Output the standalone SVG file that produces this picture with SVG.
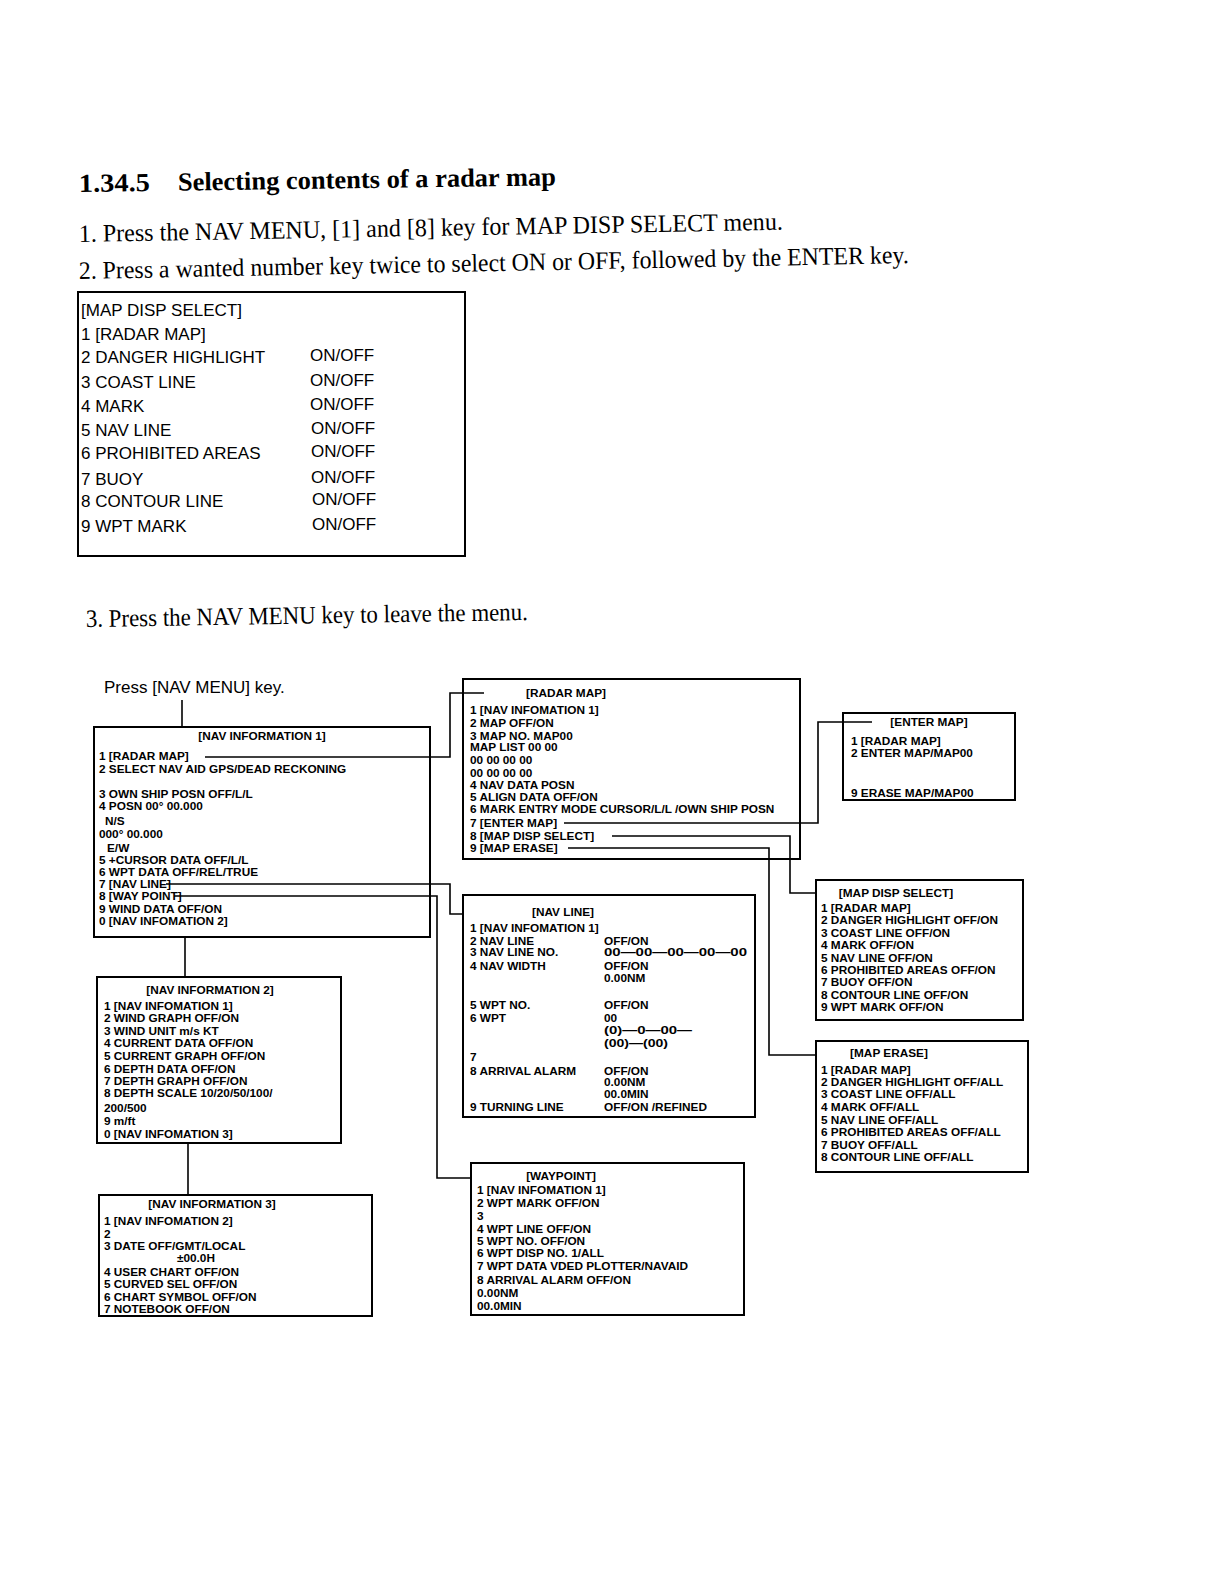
<svg xmlns="http://www.w3.org/2000/svg" width="1224" height="1584" viewBox="0 0 1224 1584">
<style>
.bx{fill:none;stroke:#000;stroke-width:2}
.cn{fill:none;stroke:#000;stroke-width:1.6}
.sr{font-family:"Liberation Serif","Times New Roman",serif;font-size:25px;fill:#000}
.ti{font-family:"Liberation Serif","Times New Roman",serif;font-size:26px;font-weight:bold;fill:#000}
.m{font-family:"Liberation Sans",Arial,sans-serif;font-size:17px;fill:#000}
.t{font-family:"Liberation Sans",Arial,sans-serif;font-size:11.8px;font-weight:bold;fill:#000}
.h{font-family:"Liberation Sans",Arial,sans-serif;font-size:11.8px;font-weight:bold;fill:#000;text-anchor:middle}
</style>
<rect width="1224" height="1584" fill="#fff"/>

<g id="instructions">
<g transform="rotate(-0.8 79 192)">
<text class="ti" x="79" y="192" textLength="71" lengthAdjust="spacingAndGlyphs">1.34.5</text>
<text class="ti" x="178" y="192" textLength="378" lengthAdjust="spacingAndGlyphs">Selecting contents of a radar map</text>
</g>
<text class="sr" x="79" y="242" transform="rotate(-1 79 242)" textLength="704" lengthAdjust="spacingAndGlyphs">1. Press the NAV MENU, [1] and [8] key for MAP DISP SELECT menu.</text>
<text class="sr" x="79" y="279" transform="rotate(-1.1 79 279)" textLength="830" lengthAdjust="spacingAndGlyphs">2. Press a wanted number key twice to select ON or OFF, followed by the ENTER key.</text>
<text class="sr" x="86" y="627" transform="rotate(-0.9 86 627)" textLength="442" lengthAdjust="spacingAndGlyphs">3. Press the NAV MENU key to leave the menu.</text>
</g>

<g id="map-disp-select-main">
<rect class="bx" x="78" y="292" width="387" height="264"/>
<text class="m" x="81" y="316">[MAP DISP SELECT]</text>
<text class="m" x="81" y="340">1 [RADAR MAP]</text>
<text class="m" x="81" y="363">2 DANGER HIGHLIGHT</text>
<text class="m" x="81" y="388">3 COAST LINE</text>
<text class="m" x="81" y="412">4 MARK</text>
<text class="m" x="81" y="436">5 NAV LINE</text>
<text class="m" x="81" y="459">6 PROHIBITED AREAS</text>
<text class="m" x="81" y="485">7 BUOY</text>
<text class="m" x="81" y="507">8 CONTOUR LINE</text>
<text class="m" x="81" y="532">9 WPT MARK</text>
<text class="m" x="310" y="361">ON/OFF</text>
<text class="m" x="310" y="386">ON/OFF</text>
<text class="m" x="310" y="410">ON/OFF</text>
<text class="m" x="311" y="434">ON/OFF</text>
<text class="m" x="311" y="457">ON/OFF</text>
<text class="m" x="311" y="483">ON/OFF</text>
<text class="m" x="312" y="505">ON/OFF</text>
<text class="m" x="312" y="530">ON/OFF</text>
</g>

<g id="press-label">
<text class="m" x="104" y="693">Press [NAV MENU] key.</text>
</g>

<g id="connectors">
<path class="cn" d="M182 700 V727"/>
<path class="cn" d="M205 757 H450 V693 H484"/>
<path class="cn" d="M166 884 H450 V914 H463"/>
<path class="cn" d="M174 896 H437 V1178 H471"/>
<path class="cn" d="M185 937 V977"/>
<path class="cn" d="M188 1143 V1195"/>
<path class="cn" d="M564 823 H818 V722 H872"/>
<path class="cn" d="M612 836 H790 V893 H816"/>
<path class="cn" d="M568 848 H769 V1055 H816"/>
</g>

<g id="nav-info-1">
<rect class="bx" x="94" y="727" width="336" height="210"/>
<text class="h" x="262" y="740">[NAV INFORMATION 1]</text>
<text class="t" x="99" y="760">1 [RADAR MAP]</text>
<text class="t" x="99" y="773">2 SELECT NAV AID GPS/DEAD RECKONING</text>
<text class="t" x="99" y="798">3 OWN SHIP POSN OFF/L/L</text>
<text class="t" x="99" y="810">4 POSN 00° 00.000</text>
<text class="t" x="105" y="825">N/S</text>
<text class="t" x="99" y="838">000° 00.000</text>
<text class="t" x="107" y="852">E/W</text>
<text class="t" x="99" y="864">5 +CURSOR DATA OFF/L/L</text>
<text class="t" x="99" y="876">6 WPT DATA OFF/REL/TRUE</text>
<text class="t" x="99" y="888">7 [NAV LINE]</text>
<text class="t" x="99" y="900">8 [WAY POINT]</text>
<text class="t" x="99" y="913">9 WIND DATA OFF/ON</text>
<text class="t" x="99" y="925">0 [NAV INFOMATION 2]</text>
</g>

<g id="radar-map">
<rect class="bx" x="463" y="679" width="337" height="180"/>
<text class="h" x="566" y="697">[RADAR MAP]</text>
<text class="t" x="470" y="714">1 [NAV INFOMATION 1]</text>
<text class="t" x="470" y="727">2 MAP OFF/ON</text>
<text class="t" x="470" y="740">3 MAP NO. MAP00</text>
<text class="t" x="470" y="751">MAP LIST 00 00</text>
<text class="t" x="470" y="764">00 00 00 00</text>
<text class="t" x="470" y="777">00 00 00 00</text>
<text class="t" x="470" y="789">4 NAV DATA POSN</text>
<text class="t" x="470" y="801">5 ALIGN DATA OFF/ON</text>
<text class="t" x="470" y="813">6 MARK ENTRY MODE CURSOR/L/L /OWN SHIP POSN</text>
<text class="t" x="470" y="827">7 [ENTER MAP]</text>
<text class="t" x="470" y="840">8 [MAP DISP SELECT]</text>
<text class="t" x="470" y="852">9 [MAP ERASE]</text>
</g>

<g id="enter-map">
<rect class="bx" x="843" y="713" width="172" height="87"/>
<text class="h" x="929" y="726">[ENTER MAP]</text>
<text class="t" x="851" y="745">1 [RADAR MAP]</text>
<text class="t" x="851" y="757">2 ENTER MAP/MAP00</text>
<text class="t" x="851" y="797">9 ERASE MAP/MAP00</text>
</g>

<g id="nav-line">
<rect class="bx" x="463" y="895" width="292" height="222"/>
<text class="h" x="563" y="916">[NAV LINE]</text>
<text class="t" x="470" y="932">1 [NAV INFOMATION 1]</text>
<text class="t" x="470" y="945">2 NAV LINE</text>
<text class="t" x="470" y="956">3 NAV LINE NO.</text>
<text class="t" x="470" y="970">4 NAV WIDTH</text>
<text class="t" x="470" y="1009">5 WPT NO.</text>
<text class="t" x="470" y="1022">6 WPT</text>
<text class="t" x="470" y="1061">7</text>
<text class="t" x="470" y="1075">8 ARRIVAL ALARM</text>
<text class="t" x="470" y="1111">9 TURNING LINE</text>
<text class="t" x="604" y="945">OFF/ON</text>
<text class="t" x="604" y="956" textLength="143" lengthAdjust="spacingAndGlyphs">00—00—00—00—00</text>
<text class="t" x="604" y="970">OFF/ON</text>
<text class="t" x="604" y="982">0.00NM</text>
<text class="t" x="604" y="1009">OFF/ON</text>
<text class="t" x="604" y="1022">00</text>
<text class="t" x="604" y="1034" textLength="88" lengthAdjust="spacingAndGlyphs">(0)—0—00—</text>
<text class="t" x="604" y="1047" textLength="64" lengthAdjust="spacingAndGlyphs">(00)—(00)</text>
<text class="t" x="604" y="1075">OFF/ON</text>
<text class="t" x="604" y="1086">0.00NM</text>
<text class="t" x="604" y="1098">00.0MIN</text>
<text class="t" x="604" y="1111">OFF/ON /REFINED</text>
</g>

<g id="map-disp-select">
<rect class="bx" x="816" y="880" width="207" height="140"/>
<text class="h" x="896" y="897">[MAP DISP SELECT]</text>
<text class="t" x="821" y="912">1 [RADAR MAP]</text>
<text class="t" x="821" y="924">2 DANGER HIGHLIGHT OFF/ON</text>
<text class="t" x="821" y="937">3 COAST LINE OFF/ON</text>
<text class="t" x="821" y="949">4 MARK OFF/ON</text>
<text class="t" x="821" y="962">5 NAV LINE OFF/ON</text>
<text class="t" x="821" y="974">6 PROHIBITED AREAS OFF/ON</text>
<text class="t" x="821" y="986">7 BUOY OFF/ON</text>
<text class="t" x="821" y="999">8 CONTOUR LINE OFF/ON</text>
<text class="t" x="821" y="1011">9 WPT MARK OFF/ON</text>
</g>

<g id="map-erase">
<rect class="bx" x="816" y="1041" width="212" height="131"/>
<text class="h" x="889" y="1057">[MAP ERASE]</text>
<text class="t" x="821" y="1074">1 [RADAR MAP]</text>
<text class="t" x="821" y="1086">2 DANGER HIGHLIGHT OFF/ALL</text>
<text class="t" x="821" y="1098">3 COAST LINE OFF/ALL</text>
<text class="t" x="821" y="1111">4 MARK OFF/ALL</text>
<text class="t" x="821" y="1124">5 NAV LINE OFF/ALL</text>
<text class="t" x="821" y="1136">6 PROHIBITED AREAS OFF/ALL</text>
<text class="t" x="821" y="1149">7 BUOY OFF/ALL</text>
<text class="t" x="821" y="1161">8 CONTOUR LINE OFF/ALL</text>
</g>

<g id="nav-info-2">
<rect class="bx" x="97" y="977" width="244" height="166"/>
<text class="h" x="210" y="994">[NAV INFORMATION 2]</text>
<text class="t" x="104" y="1010">1 [NAV INFOMATION 1]</text>
<text class="t" x="104" y="1022">2 WIND GRAPH OFF/ON</text>
<text class="t" x="104" y="1035">3 WIND UNIT m/s KT</text>
<text class="t" x="104" y="1047">4 CURRENT DATA OFF/ON</text>
<text class="t" x="104" y="1060">5 CURRENT GRAPH OFF/ON</text>
<text class="t" x="104" y="1073">6 DEPTH DATA OFF/ON</text>
<text class="t" x="104" y="1085">7 DEPTH GRAPH OFF/ON</text>
<text class="t" x="104" y="1097">8 DEPTH SCALE 10/20/50/100/</text>
<text class="t" x="104" y="1112">200/500</text>
<text class="t" x="104" y="1125">9 m/ft</text>
<text class="t" x="104" y="1138">0 [NAV INFOMATION 3]</text>
</g>

<g id="nav-info-3">
<rect class="bx" x="99" y="1195" width="273" height="121"/>
<text class="h" x="212" y="1208">[NAV INFORMATION 3]</text>
<text class="t" x="104" y="1225">1 [NAV INFOMATION 2]</text>
<text class="t" x="104" y="1238">2</text>
<text class="t" x="104" y="1250">3 DATE OFF/GMT/LOCAL</text>
<text class="t" x="177" y="1262">±00.0H</text>
<text class="t" x="104" y="1276">4 USER CHART OFF/ON</text>
<text class="t" x="104" y="1288">5 CURVED SEL OFF/ON</text>
<text class="t" x="104" y="1301">6 CHART SYMBOL OFF/ON</text>
<text class="t" x="104" y="1313">7 NOTEBOOK OFF/ON</text>
</g>

<g id="waypoint">
<rect class="bx" x="471" y="1163" width="273" height="152"/>
<text class="h" x="561" y="1180">[WAYPOINT]</text>
<text class="t" x="477" y="1194">1 [NAV INFOMATION 1]</text>
<text class="t" x="477" y="1207">2 WPT MARK OFF/ON</text>
<text class="t" x="477" y="1220">3</text>
<text class="t" x="477" y="1233">4 WPT LINE OFF/ON</text>
<text class="t" x="477" y="1245">5 WPT NO. OFF/ON</text>
<text class="t" x="477" y="1257">6 WPT DISP NO. 1/ALL</text>
<text class="t" x="477" y="1270">7 WPT DATA VDED PLOTTER/NAVAID</text>
<text class="t" x="477" y="1284">8 ARRIVAL ALARM OFF/ON</text>
<text class="t" x="477" y="1297">0.00NM</text>
<text class="t" x="477" y="1310">00.0MIN</text>
</g>
</svg>
